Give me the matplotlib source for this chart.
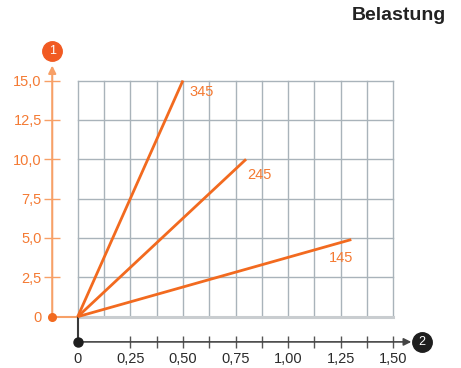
import numpy as np
import matplotlib
matplotlib.use("Agg")
import matplotlib.pyplot as plt

plt.rcParams["font.family"] = ["Liberation Sans", "DejaVu Sans"]

# data: load lines from origin to end point
series = ["145", "245", "345"]
x_end = [1.30, 0.80, 0.50]
y_end = [4.9, 10.0, 15.0]
label_pos = [(1.25, 3.7), (0.862, 9.0), (0.59, 14.3)]
yticks = [0, 2.5, 5.0, 7.5, 10.0, 12.5, 15.0]
ylabels = ["0", "2,5", "5,0", "7,5", "10,0", "12,5", "15,0"]
xticks = [0, 0.25, 0.50, 0.75, 1.00, 1.25, 1.50]
xlabels = ["0", "0,25", "0,50", "0,75", "1,00", "1,25", "1,50"]
xminor = np.arange(0, 1.51, 0.125)

ORANGE = "#f26a1f"
LORANGE = "#f7a067"
TXT_OR = "#f47a33"
GRID = "#a9b3ba"
DARK = "#2b2b2b"

fig = plt.figure(figsize=(4.61, 3.68), dpi=100)
ax = fig.add_axes([77.7 / 461, 1 - 316.7 / 368, (393.4 - 77.7) / 461, (316.7 - 80.5) / 368])
ax.set_xlim(0, 1.5)
ax.set_ylim(0, 15)

# grid
for xv in xminor:
    ax.plot([xv, xv], [0, 15], color=GRID, lw=1.0, zorder=1, clip_on=False)
for yv in yticks[1:]:
    ax.plot([0, 1.5], [yv, yv], color=GRID, lw=1.0, zorder=1, clip_on=False)
ax.plot([0, 1.5], [0, 0], color="#c9cdd0", lw=2.2, zorder=1, clip_on=False)

for s, xe, ye, (lx, ly) in zip(series, x_end, y_end, label_pos):
    ax.plot([0, xe], [0, ye], color=ORANGE, lw=2.0, zorder=3, clip_on=False,
            solid_capstyle="butt")
    ax.text(lx, ly, s, color=TXT_OR, fontsize=10.5, ha="center", va="center")

# axes positions (outside the grid)
ya = -0.121
xa = -1.6
for sp in ["top", "right", "left", "bottom"]:
    ax.spines[sp].set_visible(False)
ax.spines["left"].set_position(("data", ya))
ax.spines["bottom"].set_position(("data", xa))

ax.set_yticks(yticks)
ax.set_yticklabels(ylabels)
ax.set_xticks(xticks)
ax.set_xticklabels(xlabels)
ax.set_xticks(xminor, minor=True)
ax.tick_params(axis="y", direction="inout", length=11, width=1.0, color=LORANGE,
               labelcolor=TXT_OR, labelsize=10.5, pad=2)
ax.tick_params(axis="x", which="both", direction="inout", length=9, width=1.0,
               color="#555555", labelcolor=DARK, labelsize=10.5, pad=3)
ax.tick_params(axis="x", which="minor", labelbottom=False)
ax.yaxis.get_major_ticks()[0].tick1line.set_visible(False)
ax.xaxis.get_major_ticks()[0].tick1line.set_visible(False)
ax.xaxis.get_minor_ticks()[0].tick1line.set_visible(False)

# y axis line with arrow
ax.annotate("", xy=(ya, 15.95), xytext=(ya, 0), annotation_clip=False,
            arrowprops=dict(arrowstyle="-|>", color=LORANGE, lw=1.5,
                            mutation_scale=11, shrinkA=0, shrinkB=0))
ax.plot([ya, 0], [0, 0], color=LORANGE, lw=1.5, zorder=2, clip_on=False)
ax.plot([ya], [0], "o", color=ORANGE, ms=5.5, zorder=4, clip_on=False)
ax.plot([ya], [16.9], "o", color="#f15a22", ms=14, zorder=4, clip_on=False)
ax.text(ya, 16.9, "1", color="white", fontsize=9, ha="center", va="center",
        zorder=5)

# x axis line with arrow
ax.annotate("", xy=(1.585, xa), xytext=(0, xa), annotation_clip=False,
            arrowprops=dict(arrowstyle="-|>", color="#444444", lw=1.2,
                            mutation_scale=11, shrinkA=0, shrinkB=0))
ax.plot([0, 0], [0, xa], color="#3a3a3a", lw=1.5, zorder=2, clip_on=False)
ax.plot([0], [xa], "o", color="#1e1e1e", ms=6.5, zorder=4, clip_on=False)
ax.plot([1.636], [xa], "o", color="#1e1e1e", ms=14, zorder=4, clip_on=False)
ax.text(1.636, xa, "2", color="white", fontsize=9, ha="center", va="center",
        zorder=5)

fig.text(446 / 461, 1 - 15 / 368, "Belastung", fontsize=14, fontweight="bold",
         color="#222222", ha="right", va="center")

fig.savefig("out.png", dpi=100)
